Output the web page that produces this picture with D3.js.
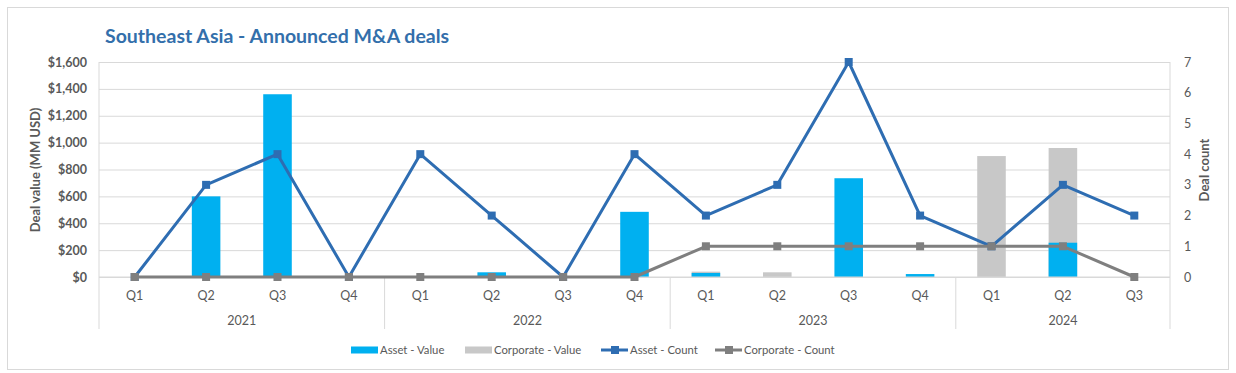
<!DOCTYPE html>
<html>
<head>
<meta charset="utf-8">
<script src="https://cdn.jsdelivr.net/npm/d3@7"></script>
<style>
  body { margin: 0; background: #fff; }
  svg { font-family: Lato, "Open Sans", sans-serif; }
</style>
</head>
<body>
<div id="chart"></div>
<script>
const years = ["2021", "2022", "2023", "2024"];
const quarters = [
  ["Q1", "Q2", "Q3", "Q4"],
  ["Q1", "Q2", "Q3", "Q4"],
  ["Q1", "Q2", "Q3", "Q4"],
  ["Q1", "Q2", "Q3"]
];
const assetValue = [0, 600, 1360, 0, 0, 35, 0, 485, 30, 0, 735, 22, 0, 255, 0];
const corporateValue = [0, 0, 0, 0, 0, 0, 0, 0, 40, 35, 0, 0, 900, 960, 0];
const assetCount = [0, 3, 4, 0, 4, 2, 0, 4, 2, 3, 7, 2, 1, 3, 2];
const corporateCount = [0, 0, 0, 0, 0, 0, 0, 0, 1, 1, 1, 1, 1, 1, 0];
const valueTicks = [0, 200, 400, 600, 800, 1000, 1200, 1400, 1600];
const countTicks = [0, 1, 2, 3, 4, 5, 6, 7];

const W = 1236, H = 373;
const plot = { left: 99, right: 1170, top: 62, bottom: 277 };

const cats = [];
years.forEach((y, i) => quarters[i].forEach(q => cats.push({ key: y + "-" + q, year: y, q })));

const svg = d3.select("#chart").append("svg").attr("width", W).attr("height", H);

svg.append("rect")
    .attr("x", 7.5).attr("y", 7.5).attr("width", 1221).attr("height", 362)
    .attr("fill", "#fff").attr("stroke", "#d9d9d9");

svg.append("text")
    .attr("x", 105).attr("y", 43)
    .attr("fill", "#336fab").attr("font-size", 19.5).attr("font-weight", 700)
    .text("Southeast Asia - Announced M&A deals");

const x = d3.scaleBand().domain(cats.map(d => d.key)).range([plot.left, plot.right]);
const y = d3.scaleLinear().domain([0, 1600]).range([plot.bottom, plot.top]);
const y2 = d3.scaleLinear().domain([0, 7]).range([plot.bottom, plot.top]);
const cx = k => x(k) + x.bandwidth() / 2;
const barW = x.bandwidth() * 0.4;

// gridlines
svg.append("g")
    .attr("transform", `translate(${plot.left},0)`)
    .call(d3.axisLeft(y).tickValues(valueTicks).tickSize(-(plot.right - plot.left)).tickFormat(""))
    .call(g => g.select(".domain").remove())
    .call(g => g.selectAll("line").attr("stroke", "#d9d9d9"));

// left axis labels
svg.append("g")
    .attr("transform", `translate(${plot.left},0)`)
    .call(d3.axisLeft(y).tickValues(valueTicks).tickSize(0).tickPadding(12)
        .tickFormat(d => "$" + d3.format(",")(d)))
    .call(g => g.select(".domain").remove())
    .call(g => g.selectAll("text").attr("fill", "#595959").attr("font-size", 12.5)
        .attr("font-weight", 700).attr("font-family", "Lato, sans-serif"));

// right axis labels
svg.append("g")
    .attr("transform", `translate(${plot.right},0)`)
    .call(d3.axisRight(y2).tickValues(countTicks).tickSize(0).tickPadding(14).tickFormat(d3.format("d")))
    .call(g => g.select(".domain").remove())
    .call(g => g.selectAll("text").attr("fill", "#595959").attr("font-size", 12.5)
        .attr("font-family", "Lato, sans-serif"));

// vertical frame lines
svg.append("line").attr("x1", plot.left).attr("x2", plot.left).attr("y1", plot.top).attr("y2", 329).attr("stroke", "#d9d9d9");
svg.append("line").attr("x1", plot.right).attr("x2", plot.right).attr("y1", plot.top).attr("y2", 329).attr("stroke", "#d9d9d9");

// bars
svg.append("g").selectAll("rect")
    .data(cats.map((c, i) => ({ key: c.key, v: corporateValue[i] })))
    .join("rect")
    .attr("x", d => cx(d.key) - barW / 2).attr("width", barW)
    .attr("y", d => y(d.v)).attr("height", d => y(0) - y(d.v))
    .attr("fill", "#c8c8c8");

svg.append("g").selectAll("rect")
    .data(cats.map((c, i) => ({ key: c.key, v: assetValue[i] })))
    .join("rect")
    .attr("x", d => cx(d.key) - barW / 2).attr("width", barW)
    .attr("y", d => y(d.v)).attr("height", d => y(0) - y(d.v))
    .attr("fill", "#00b0f0");

// category axis
svg.append("line").attr("x1", plot.left).attr("x2", plot.right).attr("y1", plot.bottom).attr("y2", plot.bottom)
    .attr("stroke", "#d9d9d9");

svg.append("g")
    .attr("transform", `translate(0,${plot.bottom})`)
    .call(d3.axisBottom(x).tickSize(0).tickPadding(14).tickFormat(k => k.split("-")[1]))
    .call(g => g.select(".domain").remove())
    .call(g => g.selectAll("text").attr("fill", "#595959").attr("font-size", 12.5)
        .attr("font-family", "Lato, sans-serif"));

// year groups
let start = 0;
years.forEach((yr, i) => {
  const n = quarters[i].length;
  const x0 = x(cats[start].key);
  const x1 = x(cats[start + n - 1].key) + x.bandwidth();
  if (i > 0) {
    svg.append("line").attr("x1", x0).attr("x2", x0).attr("y1", plot.bottom).attr("y2", 329)
        .attr("stroke", "#d9d9d9");
  }
  svg.append("text")
      .attr("x", (x0 + x1) / 2).attr("y", 325)
      .attr("text-anchor", "middle").attr("fill", "#595959").attr("font-size", 12.5)
      .text(yr);
  start += n;
});

// lines
const line = d3.line().x(d => cx(d.key)).y(d => y2(d.v));

function drawSeries(values, color, width) {
  const data = cats.map((c, i) => ({ key: c.key, v: values[i] }));
  svg.append("path").datum(data)
      .attr("d", line).attr("fill", "none")
      .attr("stroke", color).attr("stroke-width", width).attr("stroke-linejoin", "round");
  svg.append("g").selectAll("rect").data(data).join("rect")
      .attr("x", d => cx(d.key) - 4).attr("y", d => y2(d.v) - 4)
      .attr("width", 8).attr("height", 8).attr("fill", color);
}
drawSeries(assetCount, "#2e6db2", 3);
drawSeries(corporateCount, "#7f7f7f", 3);

// axis titles
svg.append("text")
    .attr("transform", "translate(40,170) rotate(-90)")
    .attr("text-anchor", "middle").attr("fill", "#595959")
    .attr("font-size", 13).attr("font-weight", 700)
    .text("Deal value (MM USD)");

svg.append("text")
    .attr("transform", "translate(1209,170) rotate(-90)")
    .attr("text-anchor", "middle").attr("fill", "#595959")
    .attr("font-size", 13).attr("font-weight", 700)
    .text("Deal count");

// legend
const legend = svg.append("g").attr("font-size", 11.3).attr("fill", "#595959");
const items = [
  { name: "Asset - Value", type: "bar", color: "#00b0f0", x: 351 },
  { name: "Corporate - Value", type: "bar", color: "#c8c8c8", x: 465 },
  { name: "Asset - Count", type: "line", color: "#2e6db2", x: 601 },
  { name: "Corporate - Count", type: "line", color: "#7f7f7f", x: 715 }
];
items.forEach(it => {
  const g = legend.append("g").attr("transform", `translate(${it.x},350)`);
  if (it.type === "bar") {
    g.append("rect").attr("x", 0).attr("y", -3.5).attr("width", 27).attr("height", 7).attr("fill", it.color);
  } else {
    g.append("line").attr("x1", 0).attr("x2", 27).attr("stroke", it.color).attr("stroke-width", 3);
    g.append("rect").attr("x", 10).attr("y", -4).attr("width", 8).attr("height", 8).attr("fill", it.color);
  }
  g.append("text").attr("x", 29).attr("y", 4).attr("fill", "#595959").text(it.name);
});
</script>
</body>
</html>
